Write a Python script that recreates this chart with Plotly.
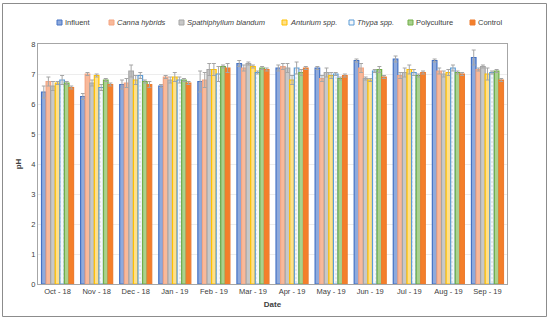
import plotly.graph_objects as go

months = ["Oct - 18", "Nov - 18", "Dec - 18", "Jan - 19", "Feb - 19", "Mar - 19",
          "Apr - 19", "May - 19", "Jun - 19", "Jul - 19", "Aug - 19", "Sep - 19"]

influent   = [6.40, 6.25, 6.65, 6.60, 6.75, 7.35, 7.20, 7.20, 7.45, 7.50, 7.45, 7.55]
canna      = [6.75, 7.00, 6.70, 6.90, 6.80, 7.20, 7.25, 6.85, 7.20, 6.95, 7.10, 7.15]
spath      = [6.60, 6.70, 7.10, 6.80, 7.15, 7.35, 7.20, 7.05, 6.85, 7.05, 7.00, 7.25]
anturium   = [6.70, 6.95, 6.80, 6.90, 7.15, 7.25, 6.80, 6.95, 6.80, 7.15, 7.05, 7.00]
thypa      = [6.80, 6.55, 6.95, 6.80, 7.00, 7.05, 7.20, 7.00, 7.10, 7.05, 7.20, 7.05]
poly       = [6.70, 6.80, 6.75, 6.80, 7.25, 7.20, 7.05, 6.85, 7.15, 6.95, 7.05, 7.10]
control    = [6.55, 6.65, 6.65, 6.70, 7.20, 7.15, 7.20, 6.95, 6.90, 7.05, 7.00, 6.80]

err_influent = [0.20, 0.10, 0.15, 0.05, 0.35, 0.10, 0.10, 0.05, 0.05, 0.10, 0.05, 0.25]
err_canna    = [0.15, 0.05, 0.15, 0.05, 0.25, 0.10, 0.10, 0.10, 0.15, 0.10, 0.10, 0.05]
err_spath    = [0.15, 0.10, 0.20, 0.10, 0.20, 0.05, 0.15, 0.15, 0.05, 0.15, 0.10, 0.05]
err_anturium = [0.05, 0.05, 0.15, 0.15, 0.20, 0.05, 0.15, 0.10, 0.05, 0.15, 0.10, 0.20]
err_thypa    = [0.15, 0.10, 0.10, 0.10, 0.25, 0.05, 0.20, 0.05, 0.05, 0.10, 0.10, 0.05]
err_poly     = [0.05, 0.05, 0.05, 0.05, 0.05, 0.05, 0.10, 0.05, 0.10, 0.05, 0.05, 0.05]
err_control  = [0.05, 0.05, 0.10, 0.05, 0.15, 0.05, 0.05, 0.05, 0.05, 0.05, 0.05, 0.05]

names = ["Influent", "<i>Canna hybrids</i>", "<i>Spathiphyllum blandum</i>",
         "<i>Anturium spp.</i>", "<i>Thypa spp.</i>", "Polyculture", "Control"]

series = [
    (influent, err_influent, "#8FAADC", "#4472C4", ""),
    (canna, err_canna, "#F8B99A", "#F4A582", ""),
    (spath, err_spath, "#C8C8C8", "#A5A5A5", ""),
    (anturium, err_anturium, "#FFE08A", "#FFC000", ""),
    (thypa, err_thypa, "#F4F7FB", "#5B9BD5", "."),
    (poly, err_poly, "#A9D18E", "#70AD47", ""),
    (control, err_control, "#F47F2A", "#ED7D31", ""),
]

# plot area geometry (px)
L, R, T, B = 38, 43, 44, 36
W, H = 550, 320
PW, PH = W - L - R, H - T - B


def px_x(p):
    return (p - L) / PW


def px_y(p):
    return (H - B - p) / PH


fig = go.Figure()
for name, (vals, errs, fill, line, pat) in zip(names, series):
    marker = dict(color=fill, line=dict(color=line, width=1.2))
    if pat:
        marker["pattern"] = dict(shape=pat, fgcolor="#C9CDD2", size=4, solidity=0.2)
    fig.add_trace(go.Bar(
        x=months, y=vals, name=name, marker=marker, showlegend=False,
        error_y=dict(type="data", array=errs, color="#A6A6A6", thickness=1, width=2),
    ))

# manual one-row legend
legend_x = [57, 109, 179, 282, 349, 408, 470]
legend_y = 22.5
shapes = [dict(type="rect", xref="paper", yref="paper",
               x0=px_x(2.5), x1=px_x(546.5), y0=px_y(316.5), y1=px_y(3.5),
               line=dict(color="#8C8C8C", width=1), fillcolor="rgba(0,0,0,0)", layer="below")]
annotations = []
for name, (vals, errs, fill, line, pat), lx in zip(names, series, legend_x):
    shapes.append(dict(type="rect", xref="paper", yref="paper",
                       x0=px_x(lx), x1=px_x(lx + 5), y0=px_y(legend_y + 2.5), y1=px_y(legend_y - 2.5),
                       line=dict(color=line, width=1), fillcolor=fill))
    annotations.append(dict(xref="paper", yref="paper", x=px_x(lx + 6), y=px_y(legend_y),
                            xanchor="left", yanchor="middle", text=name, showarrow=False,
                            font=dict(size=7.5, color="#404040",
                                      family="Liberation Sans, Arial, sans-serif")))

fig.update_layout(
    width=W, height=H,
    margin=dict(l=L, r=R, t=T, b=B),
    paper_bgcolor="white", plot_bgcolor="white",
    barmode="group", bargap=0.18, bargroupgap=0,
    font=dict(family="Liberation Sans, Arial, sans-serif", size=8, color="#404040"),
    showlegend=False,
    shapes=shapes, annotations=annotations,
)
fig.update_xaxes(
    title=dict(text="<b>Date</b>", font=dict(size=8, color="#404040"), standoff=6),
    tickfont=dict(size=7.5, color="#404040"),
    showline=True, linecolor="#A6A6A6", mirror=True, ticks="", showgrid=False,
    automargin=False,
)
fig.update_yaxes(
    title=dict(text="<b>pH</b>", font=dict(size=8, color="#404040"), standoff=8),
    range=[0, 8], dtick=1, tickfont=dict(size=7.5, color="#404040"),
    showline=True, linecolor="#A6A6A6", mirror=True, ticks="",
    showgrid=True, gridcolor="#EDEDED", gridwidth=1, zeroline=False,
    automargin=False,
)

fig.write_html("out.html", config={"displayModeBar": False},
               post_script="document.body.style.margin='0';")
